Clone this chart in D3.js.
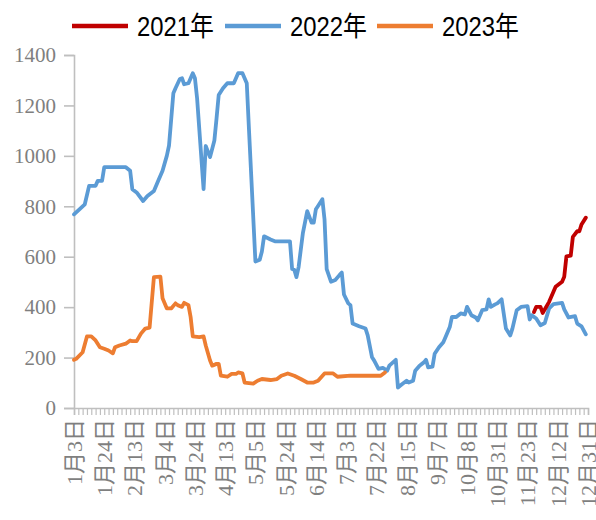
<!DOCTYPE html>
<html><head><meta charset="utf-8">
<script src="https://cdn.jsdelivr.net/npm/d3@7"></script>
<style>body{margin:0;background:#fff}svg{display:block}</style>
</head><body><svg id="c" width="596" height="520"></svg>
<script>
// ---- data ----
const tickLabels = ['1月3日','1月24日','2月13日','3月4日','3月24日','4月13日','5月5日','5月24日','6月14日','7月3日','7月22日','8月15日','9月7日','10月8日','10月31日','11月23日','12月12日','12月31日'];
const labelEvery = 14;
const nCategories = 239;
const yTicks = [0,200,400,600,800,1000,1200,1400];
const seriesNames = ['2021年','2022年','2023年'];
const seriesColors = ['#C00000','#5B9BD5','#ED7D31'];
// [category index, value]
const s2021 = [[213,381],[214,401],[216,401],[217,377],[220,421],[222,461],[223,481],[226,501],[227,521],[228,601],[230,604],[231,679],[233,701],[234,701],[235,728],[237,755]];
const s2022 = [[0,768],[3,792],[5,808],[7,881],[10,881],[11,901],[13,901],[14,955],[24,955],[26,941],[27,868],[29,855],[32,821],[34,841],[37,861],[39,901],[41,941],[43,1001],[44,1041],[46,1248],[47,1268],[49,1305],[50,1308],[51,1284],[53,1288],[55,1328],[56,1308],[57,1228],[60,868],[61,1039],[63,995],[65,1061],[66,1148],[67,1241],[69,1268],[71,1288],[74,1288],[76,1328],[78,1328],[80,1288],[81,1108],[84,581],[86,588],[87,621],[88,681],[91,668],[93,661],[100,661],[101,551],[102,548],[103,519],[104,559],[106,695],[108,781],[110,735],[111,735],[112,788],[113,801],[115,828],[116,748],[117,551],[119,501],[121,508],[123,528],[124,537],[125,450],[127,415],[128,408],[129,335],[132,324],[135,315],[136,288],[138,201],[139,188],[141,155],[143,159],[145,148],[146,168],[149,191],[150,81],[152,95],[154,108],[155,101],[157,108],[158,148],[160,168],[162,181],[163,191],[164,161],[166,164],[167,215],[168,228],[169,241],[171,261],[172,281],[174,321],[175,361],[177,361],[179,375],[181,371],[182,401],[184,368],[186,359],[187,348],[189,388],[191,391],[192,431],[193,401],[195,411],[196,415],[198,431],[200,315],[202,288],[203,315],[205,388],[207,401],[210,404],[211,351],[212,368],[214,355],[216,328],[218,337],[220,395],[222,412],[226,417],[227,391],[229,359],[232,364],[233,335],[235,324],[237,292]];
const s2023 = [[0,191],[1,195],[4,221],[6,284],[8,284],[10,268],[12,241],[14,235],[16,228],[18,217],[19,241],[21,248],[24,255],[26,268],[27,265],[29,265],[31,295],[33,315],[35,319],[37,519],[40,521],[41,435],[43,395],[45,395],[47,415],[48,408],[50,401],[51,417],[53,408],[54,361],[55,284],[58,281],[60,284],[61,248],[63,188],[64,168],[66,175],[67,175],[68,128],[71,124],[73,135],[75,135],[76,141],[78,137],[79,101],[83,97],[85,108],[87,115],[91,111],[94,115],[96,128],[99,137],[102,128],[105,115],[108,101],[111,101],[113,108],[116,137],[120,137],[122,124],[128,128],[142,128],[144,141]];

// ---- chart ----
const svg = d3.select('#c');
const x = d3.scaleLinear().domain([0, nCategories-1]).range([74, 588]);
const y = d3.scaleLinear().domain([0, 1400]).range([408, 55]);
const axisColor = '#BFBFBF';

// y axis
const ya = svg.append('g').attr('transform','translate(74,0)')
  .call(d3.axisLeft(y).tickValues(yTicks).tickSize(10).tickPadding(8).tickFormat(d3.format('d')));
ya.select('.domain').attr('stroke',axisColor).attr('stroke-width',1.6);
ya.selectAll('.tick line').attr('stroke',axisColor).attr('stroke-width',1.6);
ya.selectAll('.tick text').attr('fill','#7F7F7F').attr('font-family','"Liberation Serif", "Times New Roman", serif').attr('font-size',21);

// x axis minor ticks
const minor = d3.range(0, nCategories, 2);
const xa = svg.append('g').attr('transform','translate(0,408)')
  .call(d3.axisBottom(x).tickValues(minor).tickSize(7).tickFormat(''));
xa.select('.domain').attr('stroke',axisColor).attr('stroke-width',1.6);
xa.selectAll('.tick line').attr('stroke',axisColor).attr('stroke-width',1.2);

// x labels
const labelIdx = tickLabels.map((d,i)=>i*labelEvery);
svg.append('g').selectAll('text').data(tickLabels).join('text')
  .attr('transform',(d,i)=>`translate(${x(labelIdx[i])},419) rotate(-90)`)
  .attr('text-anchor','end').attr('dy','0.36em')
  .attr('fill','#7F7F7F')
  .attr('font-family','"Liberation Serif", "Noto Sans CJK SC", serif').attr('font-size',22)
  .text(d=>d);

// lines
const line = d3.line().x(d=>x(d[0])).y(d=>y(d[1])).curve(d3.curveLinear);
const plot = [[s2022,1],[s2023,2],[s2021,0]];
plot.forEach(([s,ci])=>{
  svg.append('path').datum(s).attr('d',line).attr('fill','none')
    .attr('stroke',seriesColors[ci]).attr('stroke-width',3.8)
    .attr('stroke-linejoin','round').attr('stroke-linecap','round');
});

// legend
const legX = [72, 225, 377];
const lg = svg.append('g');
seriesNames.forEach((n,i)=>{
  lg.append('line').attr('x1',legX[i]).attr('x2',legX[i]+56).attr('y1',26).attr('y2',26)
    .attr('stroke',seriesColors[i]).attr('stroke-width',4.5);
  lg.append('text').attr('x',legX[i]+65).attr('y',26).attr('dy','0.36em')
    .attr('font-family','"Liberation Sans Narrow", "Liberation Sans", "Noto Sans CJK SC", sans-serif')
    .attr('font-size',27).attr('fill','#000')
    .attr('textLength',77).attr('lengthAdjust','spacingAndGlyphs')
    .text(n);
});
</script></body></html>
